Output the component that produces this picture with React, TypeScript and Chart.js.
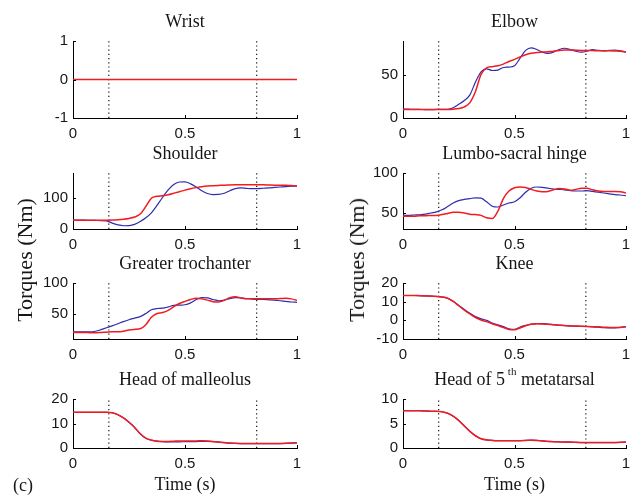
import React, { useEffect, useRef } from 'react';
import { Chart, registerables } from 'chart.js';

Chart.register(...registerables);

// ---------- data ----------
const TIME = [0, 0.025, 0.05, 0.075, 0.1, 0.125, 0.15, 0.175, 0.2, 0.225, 0.25, 0.275, 0.3, 0.325, 0.35, 0.375, 0.4, 0.425, 0.45, 0.475, 0.5, 0.525, 0.55, 0.575, 0.6, 0.625, 0.65, 0.675, 0.7, 0.725, 0.75, 0.775, 0.8, 0.825, 0.85, 0.875, 0.9, 0.925, 0.95, 0.975, 1];

const WRIST_TIME = [0, 1];
const WRIST_BLUE = [0, 0];
const WRIST_RED = [0, 0];

const ELBOW_BLUE = [10.5, 10.3, 10.1, 10, 9.8, 9.8, 10, 10, 10.2, 12, 16, 20.5, 27, 42, 54, 57.5, 55.5, 56, 59, 59.5, 61, 70, 79, 82, 80, 77, 75.5, 77, 80, 81.5, 80, 78, 77, 78, 80, 79, 78.5, 79, 79.5, 78.5, 77];
const ELBOW_RED = [10, 10, 10, 10, 10, 10, 10, 10, 10, 10.3, 11, 13, 18, 31, 51, 58.5, 60, 61, 63, 66, 68.5, 71.5, 74, 75.8, 76.5, 77, 77.5, 78, 79, 79.5, 79.5, 79.3, 79, 79, 78.8, 78.5, 78.5, 78.5, 78.3, 78, 77];

const SHOULDER_BLUE = [28.5, 28.5, 28.5, 28, 27.5, 27, 26, 19, 13.5, 10.5, 11, 15, 24, 36, 52, 76, 102, 126, 143, 151, 151.5, 145, 135, 123, 114, 110.5, 111, 115, 123, 130, 132, 130.5, 129.5, 130, 131, 132, 133.5, 135, 136.5, 137.5, 138];
const SHOULDER_RED = [28.5, 28.5, 28.5, 28.5, 28.5, 28.5, 28.5, 29, 30, 31.5, 34, 38.5, 48, 72, 99, 105, 107, 110, 115, 120, 125, 129.5, 133, 136, 138, 139, 140, 141, 141.5, 142, 142.5, 142.5, 142.5, 142, 142, 141.5, 141, 141, 140.5, 139.5, 138];

const LUMBO_BLUE = [47, 47, 47.5, 47.8, 48.5, 50, 51.5, 54, 58, 62.5, 65.5, 67, 68, 69, 68.5, 64, 58.5, 57.5, 60, 62.5, 64, 69, 76, 81, 82.5, 82, 81, 80, 79.5, 79, 78, 77.5, 77.5, 78, 77, 76, 75, 74, 73, 72.5, 71.5];
const LUMBO_RED = [46, 46, 46, 46.5, 46.5, 47, 47, 48, 49.5, 51, 51, 50, 48.5, 48, 47, 44, 43, 52, 68, 77.5, 81.5, 82.5, 82, 79.5, 77.5, 76.5, 77, 79, 80.5, 80, 78.5, 79.5, 81, 81, 79, 77.5, 77, 77, 77, 76.5, 75];

const TROCH_BLUE = [21.5, 21.5, 21.5, 21.5, 22.5, 25, 28, 31, 34.5, 38, 41, 43.5, 46, 51, 57, 59, 59.5, 61.5, 64, 64.5, 65, 68, 73.5, 76.5, 76, 73.5, 71.5, 72.5, 75, 76.5, 76, 75, 74, 73.5, 73.5, 73, 72.5, 71.5, 70.5, 69.5, 69];
const TROCH_RED = [20.5, 20.5, 20.5, 20, 20, 20.5, 21, 21.5, 21.5, 22.5, 24.5, 25.5, 26.5, 33, 45, 51, 52.5, 56, 62, 67, 70.5, 73.5, 75.5, 74.5, 72.5, 70, 69.5, 72, 76.5, 78, 76, 74.5, 74.5, 74.5, 74.5, 74.5, 74.5, 75, 75.5, 74.5, 72];

const KNEE_BLUE = [13.3, 13.3, 13.3, 13.2, 13.1, 13, 12.8, 12.5, 11.8, 10.2, 8, 5.8, 3.8, 2, 0.8, 0, -1.4, -2.4, -3.4, -4.5, -4.8, -3.6, -2.7, -2, -1.8, -1.8, -2, -2.3, -2.6, -2.8, -3, -3.1, -3.2, -3.3, -3.5, -3.7, -3.9, -4, -4, -3.8, -3.4];
const KNEE_RED = [13.3, 13.3, 13.3, 13.2, 13.1, 13, 12.8, 12.5, 11.8, 10.1, 7.8, 5.5, 3.4, 1.5, 0.2, -0.7, -1.8, -2.8, -3.8, -4.9, -5.1, -4.1, -2.9, -2.1, -1.8, -1.9, -2.1, -2.4, -2.6, -2.8, -3, -3.1, -3.2, -3.3, -3.4, -3.5, -3.7, -3.8, -3.9, -3.8, -3.4];

const MALL_BLUE = [14.6, 14.6, 14.6, 14.6, 14.6, 14.6, 14.6, 14.4, 13.6, 12.3, 10.5, 8.4, 5.8, 4, 3.2, 2.8, 2.6, 2.5, 2.5, 2.5, 2.6, 2.6, 2.6, 2.7, 2.7, 2.6, 2.4, 2.2, 2, 1.9, 1.8, 1.8, 1.8, 1.8, 1.8, 1.8, 1.8, 1.8, 1.9, 2, 2.1];
const MALL_RED = [14.6, 14.6, 14.6, 14.6, 14.6, 14.6, 14.6, 14.4, 13.6, 12.3, 10.5, 8.4, 5.8, 4, 3.2, 2.8, 2.7, 2.7, 2.8, 2.9, 2.9, 2.9, 2.9, 3, 2.9, 2.7, 2.4, 2.2, 2, 1.9, 1.8, 1.8, 1.8, 1.8, 1.8, 1.8, 1.8, 1.8, 1.9, 2, 2.1];

const META_BLUE = [7.6, 7.6, 7.6, 7.6, 7.55, 7.5, 7.5, 7.4, 7.1, 6.5, 5.6, 4.5, 3.4, 2.5, 1.9, 1.65, 1.55, 1.5, 1.5, 1.5, 1.5, 1.5, 1.55, 1.6, 1.55, 1.45, 1.35, 1.3, 1.25, 1.2, 1.2, 1.15, 1.1, 1.1, 1.1, 1.1, 1.1, 1.1, 1.1, 1.15, 1.2];
const META_RED = [7.6, 7.6, 7.6, 7.6, 7.55, 7.5, 7.5, 7.4, 7.1, 6.5, 5.6, 4.5, 3.4, 2.5, 1.9, 1.65, 1.55, 1.5, 1.5, 1.5, 1.5, 1.5, 1.55, 1.6, 1.55, 1.45, 1.35, 1.3, 1.25, 1.2, 1.2, 1.15, 1.1, 1.1, 1.1, 1.1, 1.1, 1.1, 1.1, 1.15, 1.2];

const PHASE_MARKS = [0.16, 0.82];
const X_TICKS = [0, 0.5, 1];

const WRIST_Y = [-1, 1];
const WRIST_TICKS = [-1, 0, 1];
const ELBOW_Y = [0, 90];
const ELBOW_TICKS = [0, 50];
const SHOULDER_Y = [0, 180];
const SHOULDER_TICKS = [0, 100];
const LUMBO_Y = [30, 100];
const LUMBO_TICKS = [50, 100];
const TROCH_Y = [10, 100];
const TROCH_TICKS = [50, 100];
const KNEE_Y = [-10, 20];
const KNEE_TICKS = [-10, 0, 10, 20];
const MALL_Y = [0, 20];
const MALL_TICKS = [0, 10, 20];
const META_Y = [0, 10];
const META_TICKS = [0, 5, 10];

// ---------- style / layout ----------
const BLUE = 'rgb(45,45,175)';
const RED = 'rgb(240,28,32)';
const TEXT = '#161616';
const SANS = '"Liberation Sans", Arial, sans-serif';
const SERIF = '"Liberation Serif", "Times New Roman", serif';

const TOP_M = 34;
const LEFT_M = 60;
const RIGHT_M = 12;

type Seg = { text: string; sup?: boolean };
type Panel = {
  title: Seg[];
  t: number[];
  blue: number[];
  red: number[];
  yr: number[];
  yt: number[];
  l: number; r: number; top: number; bot: number;
  bottomRow: boolean;
};

const COLS = [[73, 297], [403, 626]];
const ROWS = [[41, 118], [173, 229], [283, 339], [399, 448]];

const PANELS: Panel[] = [
  { title: [{ text: 'Wrist' }], t: WRIST_TIME, blue: WRIST_BLUE, red: WRIST_RED, yr: WRIST_Y, yt: WRIST_TICKS, l: COLS[0][0], r: COLS[0][1], top: ROWS[0][0], bot: ROWS[0][1], bottomRow: false },
  { title: [{ text: 'Elbow' }], t: TIME, blue: ELBOW_BLUE, red: ELBOW_RED, yr: ELBOW_Y, yt: ELBOW_TICKS, l: COLS[1][0], r: COLS[1][1], top: ROWS[0][0], bot: ROWS[0][1], bottomRow: false },
  { title: [{ text: 'Shoulder' }], t: TIME, blue: SHOULDER_BLUE, red: SHOULDER_RED, yr: SHOULDER_Y, yt: SHOULDER_TICKS, l: COLS[0][0], r: COLS[0][1], top: ROWS[1][0], bot: ROWS[1][1], bottomRow: false },
  { title: [{ text: 'Lumbo-sacral hinge' }], t: TIME, blue: LUMBO_BLUE, red: LUMBO_RED, yr: LUMBO_Y, yt: LUMBO_TICKS, l: COLS[1][0], r: COLS[1][1], top: ROWS[1][0], bot: ROWS[1][1], bottomRow: false },
  { title: [{ text: 'Greater trochanter' }], t: TIME, blue: TROCH_BLUE, red: TROCH_RED, yr: TROCH_Y, yt: TROCH_TICKS, l: COLS[0][0], r: COLS[0][1], top: ROWS[2][0], bot: ROWS[2][1], bottomRow: false },
  { title: [{ text: 'Knee' }], t: TIME, blue: KNEE_BLUE, red: KNEE_RED, yr: KNEE_Y, yt: KNEE_TICKS, l: COLS[1][0], r: COLS[1][1], top: ROWS[2][0], bot: ROWS[2][1], bottomRow: false },
  { title: [{ text: 'Head of malleolus' }], t: TIME, blue: MALL_BLUE, red: MALL_RED, yr: MALL_Y, yt: MALL_TICKS, l: COLS[0][0], r: COLS[0][1], top: ROWS[3][0], bot: ROWS[3][1], bottomRow: true },
  { title: [{ text: 'Head of 5' }, { text: ' th', sup: true }, { text: ' metatarsal' }], t: TIME, blue: META_BLUE, red: META_RED, yr: META_Y, yt: META_TICKS, l: COLS[1][0], r: COLS[1][1], top: ROWS[3][0], bot: ROWS[3][1], bottomRow: true },
];

function canvasRect(p: Panel) {
  const xb = p.bottomRow ? 48 : 26;
  return {
    left: p.l - LEFT_M,
    top: p.top - TOP_M,
    width: p.r - p.l + LEFT_M + RIGHT_M,
    height: p.bot - p.top + TOP_M + xb,
    xb,
  };
}

function makePlugin(p: Panel) {
  return {
    id: 'panelDecor',
    afterDraw(chart: any) {
      const { ctx, chartArea } = chart;
      const xs = chart.scales.x;
      const ys = chart.scales.y;
      ctx.save();
      // inward ticks
      ctx.strokeStyle = '#000';
      ctx.lineWidth = 1;
      ctx.beginPath();
      X_TICKS.forEach((v) => {
        const px = Math.round(xs.getPixelForValue(v)) + 0.5;
        ctx.moveTo(px, chartArea.bottom);
        ctx.lineTo(px, chartArea.bottom - 3);
      });
      p.yt.forEach((v) => {
        const py = Math.round(ys.getPixelForValue(v)) + 0.5;
        ctx.moveTo(chartArea.left, py);
        ctx.lineTo(chartArea.left + 3, py);
      });
      ctx.stroke();
      // title (rich text)
      const fonts = p.title.map((s) => (s.sup ? `11px ${SERIF}` : `18px ${SERIF}`));
      const widths = p.title.map((s, i) => {
        ctx.font = fonts[i];
        return ctx.measureText(s.text).width;
      });
      const total = widths.reduce((a, b) => a + b, 0);
      let x = (chartArea.left + chartArea.right) / 2 - total / 2;
      const y = chartArea.top - 19;
      ctx.fillStyle = TEXT;
      ctx.textAlign = 'left';
      ctx.textBaseline = 'middle';
      p.title.forEach((s, i) => {
        ctx.font = fonts[i];
        ctx.fillText(s.text, x, s.sup ? y - 8 : y);
        x += widths[i];
      });
      ctx.restore();
    },
  };
}

function buildConfig(p: Panel, xb: number): any {
  const datasets: any[] = [
    {
      data: p.t.map((x, i) => ({ x, y: p.red[i] })),
      borderColor: RED,
      borderWidth: 1.5,
      pointRadius: 0,
      cubicInterpolationMode: 'monotone',
      fill: false,
    },
    {
      data: p.t.map((x, i) => ({ x, y: p.blue[i] })),
      borderColor: BLUE,
      borderWidth: 1.2,
      pointRadius: 0,
      cubicInterpolationMode: 'monotone',
      fill: false,
    },
    ...PHASE_MARKS.map((m) => ({
      data: [{ x: m, y: p.yr[0] }, { x: m, y: p.yr[1] }],
      borderColor: '#111',
      borderWidth: 1.2,
      borderDash: [1.2, 3],
      pointRadius: 0,
      fill: false,
    })),
  ];
  return {
    type: 'line',
    data: { datasets },
    options: {
      animation: false,
      responsive: false,
      maintainAspectRatio: false,
      events: [],
      layout: { padding: { top: TOP_M, right: RIGHT_M, left: 0, bottom: 0 } },
      plugins: {
        legend: { display: false },
        tooltip: { enabled: false },
        title: { display: false },
      },
      scales: {
        x: {
          type: 'linear',
          min: 0,
          max: 1,
          afterBuildTicks: (s: any) => { s.ticks = X_TICKS.map((v) => ({ value: v })); },
          afterFit: (s: any) => { s.height = xb; },
          grid: { display: true, drawOnChartArea: false, drawTicks: false },
          border: { display: true, color: '#000', width: 1 },
          ticks: {
            font: { family: SANS, size: 15 },
            color: TEXT,
            padding: 7,
            maxRotation: 0,
            autoSkip: false,
            callback: (v: any) => String(v),
          },
          title: p.bottomRow
            ? { display: true, text: 'Time (s)', color: TEXT, font: { family: SERIF, size: 18 }, padding: { top: 0, bottom: 0 } }
            : { display: false },
        },
        y: {
          type: 'linear',
          min: p.yr[0],
          max: p.yr[1],
          afterBuildTicks: (s: any) => { s.ticks = p.yt.map((v) => ({ value: v })); },
          afterFit: (s: any) => { s.width = LEFT_M; },
          grid: { display: true, drawOnChartArea: false, drawTicks: false },
          border: { display: true, color: '#000', width: 1 },
          ticks: {
            font: { family: SANS, size: 15 },
            color: TEXT,
            padding: 5,
            autoSkip: false,
            callback: (v: any) => String(v),
          },
        },
      },
    },
    plugins: [makePlugin(p)],
  };
}

function PanelChart({ p }: { p: Panel }) {
  const ref = useRef<HTMLCanvasElement | null>(null);
  const rect = canvasRect(p);
  useEffect(() => {
    if (!ref.current) return;
    const chart = new Chart(ref.current, buildConfig(p, rect.xb));
    return () => chart.destroy();
  }, []);
  return (
    <canvas
      ref={ref}
      width={rect.width}
      height={rect.height}
      style={{ position: 'absolute', left: rect.left, top: rect.top, width: rect.width, height: rect.height }}
    />
  );
}

const labelStyle: React.CSSProperties = {
  position: 'absolute',
  fontFamily: SERIF,
  color: TEXT,
  whiteSpace: 'nowrap',
  lineHeight: 1,
};

export default function App() {
  return (
    <div style={{ position: 'absolute', left: 0, top: 0, width: 639, height: 497, overflow: 'hidden', background: '#fff' }}>
      {PANELS.map((p, i) => (
        <PanelChart key={i} p={p} />
      ))}
      <div style={{ ...labelStyle, fontSize: 22, left: 25, top: 260, transform: 'translate(-50%, -50%) rotate(-90deg)' }}>Torques (Nm)</div>
      <div style={{ ...labelStyle, fontSize: 22, left: 357, top: 260, transform: 'translate(-50%, -50%) rotate(-90deg)' }}>Torques (Nm)</div>
      <div style={{ ...labelStyle, fontSize: 18, left: 23, top: 485, transform: 'translate(-50%, -50%)' }}>(c)</div>
    </div>
  );
}
